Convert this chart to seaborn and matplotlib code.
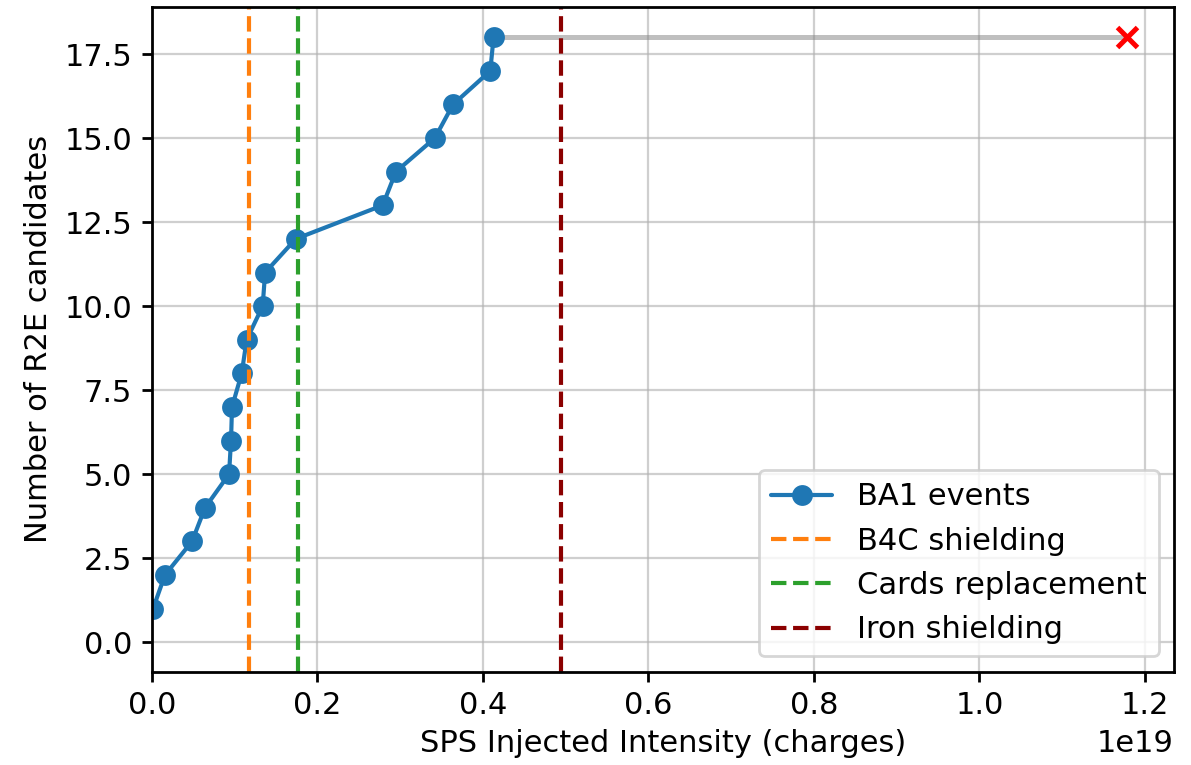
import matplotlib
matplotlib.use("Agg")
import matplotlib.pyplot as plt
import seaborn as sns
import numpy as np
import pandas as pd

# Data (x in units of 1e19 charges)
event_intensity = [0.0016, 0.016, 0.0487, 0.0644, 0.0934, 0.0958, 0.097, 0.1087, 0.1147,
                   0.134, 0.137, 0.174, 0.279, 0.295, 0.342, 0.364, 0.409, 0.413]
event_count = list(range(1, 19))
current_intensity = 1.178
b4c_shielding = 0.1175
cards_replacement = 0.1767
iron_shielding = 0.495

scale = 1e19
df = pd.DataFrame({"x": np.array(event_intensity) * scale, "y": event_count})

sns.set_theme(style="ticks")
plt.rcParams["font.family"] = ["DejaVu Sans"]
plt.rcParams["font.size"] = 11
plt.rcParams["text.color"] = "black"
plt.rcParams["axes.labelcolor"] = "black"

fig = plt.figure(figsize=(5.955, 3.825), dpi=200)
ax = fig.add_axes([0.1274, 0.1219, 0.9857 - 0.1274, 0.9908 - 0.1219])

sns.lineplot(data=df, x="x", y="y", ax=ax, marker="o", markersize=7.5,
             color="#1f77b4", linewidth=1.5, markeredgewidth=0,
             label="BA1 events", estimator=None, sort=False)
ax.plot([event_intensity[-1] * scale, current_intensity * scale],
        [event_count[-1], event_count[-1]], color="grey", alpha=0.5, linewidth=1.8, zorder=1)
ax.plot([current_intensity * scale], [event_count[-1]], marker="x", color="red",
        markersize=7, markeredgewidth=1.8, linestyle="none")

ax.axvline(b4c_shielding * scale, color="#ff7f0e", linestyle="--", linewidth=1.5, label="B4C shielding")
ax.axvline(cards_replacement * scale, color="#2ca02c", linestyle="--", linewidth=1.5, label="Cards replacement")
ax.axvline(iron_shielding * scale, color="darkred", linestyle="--", linewidth=1.5, label="Iron shielding")

ax.set_xlim(0, 1.235 * scale)
ax.set_ylim(-0.88, 18.9)
ax.set_yticks(np.arange(0, 18, 2.5))
ax.set_xticks(np.arange(0, 1.21, 0.2) * scale)
ax.grid(True, color="#b0b0b0", alpha=0.6, linewidth=0.8)

for s in ax.spines.values():
    s.set_color("black")
    s.set_linewidth(1.0)
ax.tick_params(colors="black", labelsize=11, width=1.0, length=3.5)

ax.set_xlabel("SPS Injected Intensity (charges)", fontsize=11, color="black", labelpad=3)
ax.set_ylabel("Number of R2E candidates", fontsize=11, color="black")
ax.xaxis.get_offset_text().set_fontsize(11)
ax.xaxis.get_offset_text().set_color("black")

leg = ax.legend(loc="lower right", fontsize=11, frameon=True, framealpha=0.8, edgecolor="#cccccc")
for t in leg.get_texts():
    t.set_color("black")

fig.savefig("out.png", dpi=200)
